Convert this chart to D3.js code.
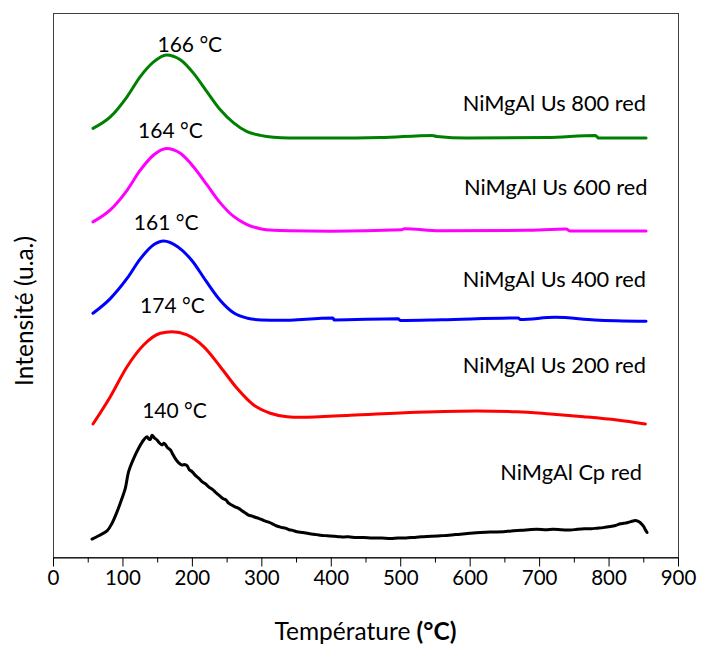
<!DOCTYPE html>
<html><head><meta charset="utf-8">
<script src="https://cdn.jsdelivr.net/npm/d3@7"></script>
<style>body{margin:0;background:#fff}svg{display:block}</style>
</head><body><svg id="c" width="701" height="645"></svg>
<script>
// ---- data (temperature °C, intensity a.u. incl. stacking offset) ----
const xTicks = [0,100,200,300,400,500,600,700,800,900];
const xMinorTicks = [50,150,250,350,450,550,650,750,850];

const us800 = [[57.6,78.8],[82.5,80.9],[106.6,84.6],[125.7,88.3],[144.9,91.0],[163.2,92.3],[183.4,91.4],[202.5,88.9],[221.8,85.5],[240.9,82.2],[260.1,79.8],[279.4,78.2],[298.5,77.5],[317.7,77.15],[340,77.03],[400,77.0],[471.6,77.1],[545.8,77.5],[553,77.3],[596.2,77.0],[711.4,77.1],[781,77.5],[785.7,77.0],[854,77.0]];
const us600 = [[57.6,61.6],[82.5,63.8],[106.6,67.4],[125.7,71.1],[144.9,73.9],[163.2,75.1],[183.4,74.2],[202.5,71.7],[221.8,68.4],[240.9,65.1],[260.1,62.6],[279.4,61.1],[298.5,60.35],[317.7,60.05],[340,59.95],[400,59.9],[502,60.15],[506,60.35],[557,59.95],[680,60.05],[739,60.3],[744,59.93],[854,59.93]];
const us400 = [[57.6,44.8],[82.5,47.5],[106.6,51.2],[125.7,54.8],[144.9,57.4],[159.3,58.1],[180,57.0],[200,54.5],[220,50.8],[240,47.3],[260,44.9],[280,43.9],[300,43.57],[326,43.5],[403,43.93],[405,43.57],[497,43.8],[500,43.47],[560,43.6],[670,43.93],[673,43.66],[723,44.06],[780,43.57],[854,43.33]];
const us200 = [[57.6,24.45],[82.5,29.47],[106.6,34.98],[130.5,38.97],[154.5,41.12],[171.4,41.42],[193.0,40.81],[216.9,38.66],[240.9,34.98],[265.0,31.01],[288.9,27.94],[312.9,26.42],[337.0,25.79],[356.1,25.68],[428.1,26.05],[524.2,26.6],[610.6,26.84],[668.2,26.71],[716.2,26.29],[764.1,25.79],[812.2,25.18],[853.0,24.45]];
const cp = [[56.2,3.3],[65.7,3.9],[77.8,4.8],[85.0,6.2],[92.2,8.3],[99.4,10.8],[104.1,12.6],[108.9,15.7],[116.1,18.1],[123.3,20.0],[130.5,21.5],[135.4,22.1],[138,21.7],[140.1,21.6],[142.6,22.4],[146,21.9],[149.8,21.5],[153,21.0],[157.0,20.6],[159.5,20.9],[161.7,20.7],[165,20.1],[168.9,19.7],[172,19.0],[176.1,18.1],[181,17.3],[185.8,16.9],[189,17.0],[193.0,16.8],[196,16.1],[200.2,15.7],[205,15.0],[209.7,14.5],[215,13.8],[219,13.5],[224.1,12.9],[230,12.4],[234,11.9],[238.5,11.4],[245,10.7],[249,10.5],[252.9,9.9],[258,9.5],[262,9.2],[267.3,8.95],[272,8.5],[276,8.2],[281.7,7.7],[287,7.5],[291,7.3],[296.1,7.1],[302,6.8],[306,6.6],[310.5,6.4],[316,6.1],[320,5.8],[324.9,5.6],[330,5.4],[334.5,5.3],[340,5.0],[345,4.9],[351.4,4.65],[360,4.5],[368,4.3],[375.3,4.2],[385,4.0],[395,3.9],[405,3.8],[413.7,3.7],[425,3.7],[437,3.6],[447.3,3.6],[460,3.5],[473,3.5],[485.7,3.4],[497,3.5],[508,3.5],[519.3,3.6],[530,3.7],[545,3.8],[557.7,3.9],[570,4.0],[586.5,4.2],[600,4.35],[615.3,4.5],[630,4.6],[648.9,4.65],[660,4.8],[675,4.9],[685,5.0],[697,5.1],[710,5.0],[720,5.1],[733,5.0],[745,4.95],[755,5.1],[765,5.2],[775,5.2],[783.4,5.3],[792,5.4],[802.6,5.6],[810,5.8],[817,6.1],[822,6.2],[826.6,6.3],[832,6.5],[838.6,6.7],[842,6.6],[845.8,6.3],[848,6.0],[850.6,5.6],[853,5.0],[855.4,4.5]];

const seriesNames = ["NiMgAl Us 800 red","NiMgAl Us 600 red","NiMgAl Us 400 red","NiMgAl Us 200 red","NiMgAl Cp red"];
const seriesData = [us800, us600, us400, us200, cp];
const seriesColors = ["#008000","#FF00FF","#0000FF","#FF0000","#000000"];
// name label anchor (right end) in data coords
const nameLabelPos = [[854,81.9],[856,66.5],[854,49.7],[854,33.8],[848,14.2]];
const peakLabels = ["166 °C","164 °C","161 °C","174 °C","140 °C"];
const peakLabelPos = [[197,92.8],[169,77.0],[163,60.1],[172,44.8],[175,25.5]];

// ---- chart ----
const svg = d3.select("#c");
const x = d3.scaleLinear().domain([0,900]).range([53,678]);
const y = d3.scaleLinear().domain([0,100]).range([557,13]);
const FONT = "Lato, 'Open Sans', sans-serif";

svg.append("rect").attr("x",x(0)+0.5).attr("y",y(100)+0.5)
  .attr("width",x(900)-x(0)).attr("height",y(0)-y(100))
  .attr("fill","none").attr("stroke","#404040").attr("stroke-width",1);

const smoothLine = d3.line().x(d=>x(d[0])).y(d=>y(d[1])).curve(d3.curveMonotoneX);
const noisyLine = d3.line().x(d=>x(d[0])).y(d=>y(d[1])).curve(d3.curveCatmullRom.alpha(0.5));
seriesData.forEach((s,i)=>{
  svg.append("path").datum(s)
    .attr("d", i===4 ? noisyLine : smoothLine)
    .attr("fill","none").attr("stroke",seriesColors[i])
    .attr("stroke-width",3).attr("stroke-linejoin","round").attr("stroke-linecap","round");
});

// x axis
const gx = svg.append("g").attr("transform",`translate(0,${y(0)+0.5})`);
gx.call(d3.axisBottom(x).tickValues(xTicks).tickSize(9).tickSizeOuter(0).tickPadding(4));
gx.select(".domain").attr("stroke","#000");
gx.selectAll(".tick line").attr("stroke","#000");
gx.selectAll(".tick text").attr("font-family",FONT).attr("font-size",20.5).attr("fill","#000");
const gm = svg.append("g").attr("transform",`translate(0,${y(0)+0.5})`);
gm.call(d3.axisBottom(x).tickValues(xMinorTicks).tickSize(5).tickFormat(""));
gm.select(".domain").remove();
gm.selectAll(".tick line").attr("stroke","#000");

// names
seriesNames.forEach((n,i)=>{
  svg.append("text").attr("x",x(nameLabelPos[i][0])).attr("y",y(nameLabelPos[i][1]))
    .attr("text-anchor","end").attr("font-family",FONT).attr("font-size",21.8).attr("fill","#000").text(n);
});
peakLabels.forEach((t,i)=>{
  svg.append("text").attr("x",x(peakLabelPos[i][0])).attr("y",y(peakLabelPos[i][1]))
    .attr("text-anchor","middle").attr("font-family",FONT).attr("font-size",21).attr("fill","#000").text(t);
});

// axis titles
const xt = svg.append("text").attr("x",(x(0)+x(900))/2).attr("y",640)
  .attr("text-anchor","middle").attr("font-family",FONT).attr("font-size",24.5).attr("fill","#000");
xt.append("tspan").text("Température ");
xt.append("tspan").attr("font-weight","bold").text("(°C)");
svg.append("text").attr("transform","translate(33,311) rotate(-90)")
  .attr("text-anchor","middle").attr("font-family",FONT).attr("font-size",24.5).attr("fill","#000")
  .text("Intensité (u.a.)");
</script></body></html>
